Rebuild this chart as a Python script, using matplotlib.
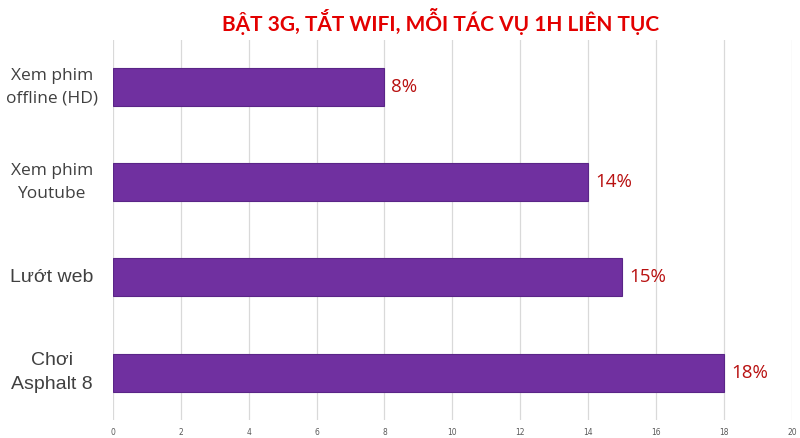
import matplotlib.pyplot as plt

# Data
categories = ['Xem phim\noffline (HD)', 'Xem phim\nYoutube', 'Lướt web', 'Chơi\nAsphalt 8']
values = [8, 14, 15, 18]
value_labels = ['8%', '14%', '15%', '18%']
x_ticks = list(range(0, 21, 2))

fig = plt.figure(figsize=(8, 4.38), dpi=100)
ax = fig.add_axes([0.141, 0.041, 0.849, 0.868])

y_pos = list(range(len(categories)))
ax.barh(y_pos, values, height=0.4, color='#7030A0', edgecolor='#5A2587', linewidth=0.8, zorder=3)

ax.set_xlim(0, 20)
ax.set_ylim(3.5, -0.5)
ax.set_xticks(x_ticks)
ax.set_xticklabels([str(t) for t in x_ticks], fontsize=5.5, color='#595959')
ax.set_yticks(y_pos)
ax.set_yticklabels([])
ax.tick_params(axis='both', length=0, pad=6)
ax.grid(axis='x', color='#d9d9d9', linewidth=0.9, zorder=0)
for s in ax.spines.values():
    s.set_visible(False)

# category labels (top two in a Calibri-like face, bottom two in Arial-like)
label_fonts = ['Open Sans', 'Open Sans', 'Liberation Sans', 'Liberation Sans']
label_sizes = [12.5, 12.5, 14, 14]
for y, lab, fnt, sz in zip(y_pos, categories, label_fonts, label_sizes):
    ax.text(-1.8, y, lab, ha='center', va='center', fontsize=sz, family=fnt,
            color='#404040', linespacing=1.6, clip_on=False)

# value labels
for y, v, lab in zip(y_pos, values, value_labels):
    ax.text(v + 0.2, y, lab, ha='left', va='center', fontsize=13.5,
            family='Open Sans', color='#B81010', zorder=4)

fig.text(0.551, 0.952, 'BẬT 3G, TẮT WIFI, MỖI TÁC VỤ 1H LIÊN TỤC', ha='center', va='center',
         fontsize=15, fontweight='bold', color='#E30000',
         family=['Lato', 'DejaVu Sans'])

fig.savefig('out.png', dpi=100)
